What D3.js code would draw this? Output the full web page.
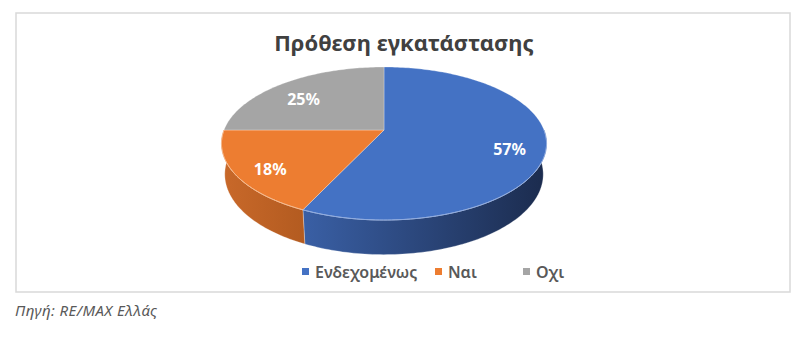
<!DOCTYPE html>
<html>
<head>
<meta charset="utf-8">
<script src="https://cdn.jsdelivr.net/npm/d3@7"></script>
<style>
  body { margin: 0; background: #fff; }
  svg { display: block; font-family: "Noto Sans", "Open Sans", sans-serif; }
</style>
</head>
<body>
<div id="chart"></div>
<script>
var categories = ["Ενδεχομένως", "Ναι", "Οχι"];
var values = [57, 18, 25];
var colors = ["#4472C4", "#ED7D31", "#A5A5A5"];
var sideColors = [["#3a60a6", "#1b2b4d"], ["#c9692a", "#b35b20"], ["#8a8a8a", "#6e6e6e"]];
var title = "Πρόθεση εγκατάστασης";
var source = "Πηγή: RE/MAX Ελλάς";

var width = 800,
    height = 354,
    cx = 384,
    cy = 130,
    R = 160,
    depth = 35,
    tilt = 27.6 * Math.PI / 180,
    dist = 803;

var svg = d3.select('#chart').append('svg')
  .attr('width', width)
  .attr('height', height);

// chart frame
svg.append('rect')
  .attr('x', 16).attr('y', 13)
  .attr('width', 774).attr('height', 279)
  .attr('fill', '#fff')
  .attr('stroke', '#d9d9d9')
  .attr('stroke-width', 1.5);

svg.append('text')
  .attr('x', 404).attr('y', 51)
  .attr('text-anchor', 'middle')
  .attr('font-size', 22)
  .attr('font-weight', 'bold')
  .attr('fill', '#404040')
  .text(title);

// project a point on the disk (angle clockwise from 12 o'clock, radius, height)
function proj(a, r, y) {
  var X = r * Math.sin(a),
      Z = r * Math.cos(a),
      v = y * Math.cos(tilt) + Z * Math.sin(tilt),
      d = Z * Math.cos(tilt) - y * Math.sin(tilt),
      s = dist / (dist + d);
  return [cx + X * s, cy - v * s];
}

function arcPoints(a0, a1, y) {
  var n = Math.max(2, Math.ceil(Math.abs(a1 - a0) / 0.02)),
      pts = [];
  for (var i = 0; i <= n; i++) pts.push(proj(a0 + (a1 - a0) * i / n, R, y));
  return pts;
}

var line = d3.line();
var arcs = d3.pie().sort(null)(values);

var defs = svg.append('defs');
sideColors.forEach(function(c, i) {
  var g = defs.append('linearGradient')
    .attr('id', 'side' + i)
    .attr('gradientUnits', 'userSpaceOnUse')
    .attr('x1', i === 1 ? 220 : 300).attr('x2', i === 1 ? 305 : 548)
    .attr('y1', 0).attr('y2', 0);
  g.append('stop').attr('offset', 0).attr('stop-color', c[0]);
  g.append('stop').attr('offset', 1).attr('stop-color', c[1]);
});

// front sides (visible half: 90deg .. 270deg)
arcs.forEach(function(d, i) {
  var a0 = Math.max(d.startAngle, Math.PI / 2),
      a1 = Math.min(d.endAngle, 3 * Math.PI / 2);
  if (a1 <= a0) return;
  var pts = arcPoints(a0, a1, 0).concat(arcPoints(a1, a0, -depth));
  svg.append('path')
    .attr('d', line(pts) + 'Z')
    .attr('fill', 'url(#side' + i + ')')
    .attr('stroke', 'rgba(255,255,255,0.35)')
    .attr('stroke-width', 0.8);
});

// top faces
arcs.forEach(function(d, i) {
  var pts = [proj(0, 0, 0)].concat(arcPoints(d.startAngle, d.endAngle, 0));
  svg.append('path')
    .attr('d', line(pts) + 'Z')
    .attr('fill', colors[i])
    .attr('stroke', 'rgba(255,255,255,0.35)')
    .attr('stroke-width', 0.8);
});

// light bevel along the front rim
arcs.forEach(function(d, i) {
  var a0 = Math.max(d.startAngle, Math.PI / 2),
      a1 = Math.min(d.endAngle, 3 * Math.PI / 2);
  if (a1 <= a0) return;
  svg.append('path')
    .attr('d', line(arcPoints(a0, a1, 0)))
    .attr('fill', 'none')
    .attr('stroke', i === 0 ? '#8eaadf' : '#f6b88a')
    .attr('stroke-width', 1);
});

// percentage labels
var total = d3.sum(values);
arcs.forEach(function(d, i) {
  var mid = (d.startAngle + d.endAngle) / 2,
      p = proj(mid, R * 0.78, 0);
  svg.append('text')
    .attr('x', p[0]).attr('y', p[1] + 6)
    .attr('text-anchor', 'middle')
    .attr('dominant-baseline', 'central')
    .attr('font-size', 16)
    .attr('font-weight', 'bold')
    .attr('fill', '#fff')
    .text(Math.round(d.value / total * 100) + '%');
});

// legend
var legendX = [302, 435, 523];
var legend = svg.selectAll('g.legend')
  .data(categories)
  .enter().append('g')
  .attr('class', 'legend')
  .attr('transform', function(d, i) { return 'translate(' + legendX[i] + ',272)'; });

legend.append('rect')
  .attr('x', 0).attr('y', -4)
  .attr('width', 7).attr('height', 7)
  .attr('fill', function(d, i) { return colors[i]; });

legend.append('text')
  .attr('x', 13).attr('y', 0)
  .attr('dominant-baseline', 'central')
  .attr('font-size', 16)
  .attr('font-weight', 600)
  .attr('fill', '#595959')
  .text(function(d) { return d; });

svg.append('text')
  .attr('x', 15).attr('y', 316)
  .attr('font-size', 15)
  .attr('letter-spacing', 0.4)
  .attr('font-style', 'italic')
  .attr('fill', '#595959')
  .text(source);
</script>
</body>
</html>
